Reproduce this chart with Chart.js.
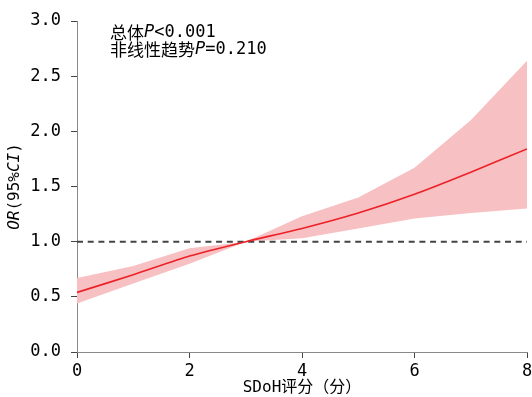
<!DOCTYPE html>
<html>
<head>
<meta charset="utf-8">
<script src="https://cdn.jsdelivr.net/npm/chart.js@4"></script>
<style>
  html, body { margin: 0; padding: 0; background: #fff; }
  #wrap { width: 532px; height: 397px; }
</style>
</head>
<body>
<div id="wrap"><canvas id="myChart"></canvas></div>
<script>
// SDoH score vs OR with 95% CI
const scores = [0, 1, 2, 3, 4, 5, 6, 7, 8];
const orValues = [0.54, 0.70, 0.87, 1.00, 1.12, 1.26, 1.43, 1.63, 1.84];
const ciLower = [0.44, 0.62, 0.80, 1.00, 1.03, 1.12, 1.21, 1.26, 1.30];
const ciUpper = [0.67, 0.78, 0.94, 1.00, 1.23, 1.40, 1.67, 2.10, 2.64];
const refValue = 1.0;
const xTicks = [0, 2, 4, 6, 8];
const yTicks = [0, 0.5, 1.0, 1.5, 2.0, 2.5, 3.0];

const monoFont = "'DejaVu Sans Mono', 'Noto Sans CJK SC', monospace";
const cjkFont = "'Noto Sans CJK SC', sans-serif";

const toPts = (ys) => scores.map((x, i) => ({ x: x, y: ys[i] }));

// draws a row of text pieces with different fonts
function drawPieces(ctx, pieces, x, y) {
    let cx = x;
    pieces.forEach(p => {
        ctx.font = p.font;
        ctx.fillText(p.text, cx, y);
        cx += ctx.measureText(p.text).width;
    });
    return cx - x;
}

const textPlugin = {
    id: 'extraText',
    afterDraw(chart) {
        const ctx = chart.ctx;
        const area = chart.chartArea;
        ctx.save();
        ctx.fillStyle = '#000';
        ctx.textBaseline = 'middle';
        ctx.textAlign = 'left';
        drawPieces(ctx, [
            { text: '总体', font: '17px ' + cjkFont },
            { text: 'P', font: 'italic 17px ' + monoFont },
            { text: '<0.001', font: '17px ' + monoFont }
        ], area.left + 33, area.top + 12);
        drawPieces(ctx, [
            { text: '非线性趋势', font: '17px ' + cjkFont },
            { text: 'P', font: 'italic 17px ' + monoFont },
            { text: '=0.210', font: '17px ' + monoFont }
        ], area.left + 33, area.top + 29);

        // y axis title, rotated
        const yPieces = [
            { text: 'OR', font: 'italic 16px ' + monoFont },
            { text: '(95%', font: '16px ' + monoFont },
            { text: 'CI', font: 'italic 16px ' + monoFont },
            { text: ')', font: '16px ' + monoFont }
        ];
        let total = 0;
        yPieces.forEach(p => { ctx.font = p.font; total += ctx.measureText(p.text).width; });
        ctx.translate(15, (area.top + area.bottom) / 2);
        ctx.rotate(-Math.PI / 2);
        drawPieces(ctx, yPieces, -total / 2, 0);
        ctx.restore();
    }
};

const ctx = document.getElementById('myChart').getContext('2d');
const myChart = new Chart(ctx, {
    type: 'line',
    data: {
        datasets: [
            {
                label: 'upper',
                data: toPts(ciUpper),
                borderWidth: 0,
                pointRadius: 0,
                backgroundColor: '#f7c0c2',
                fill: '+1',
                order: 3
            },
            {
                label: 'lower',
                data: toPts(ciLower),
                borderWidth: 0,
                pointRadius: 0,
                fill: false,
                order: 3
            },
            {
                label: 'OR',
                data: toPts(orValues),
                borderColor: '#ec2127',
                borderWidth: 1.6,
                pointRadius: 0,
                tension: 0.2,
                fill: false,
                order: 0
            },
            {
                label: 'ref',
                data: [{ x: scores[0], y: refValue }, { x: scores[scores.length - 1], y: refValue }],
                borderColor: '#444',
                borderWidth: 2,
                borderDash: [6, 4.7],
                pointRadius: 0,
                fill: false,
                order: 1
            }
        ]
    },
    options: {
        responsive: true,
        maintainAspectRatio: false,
        animation: false,
        events: [],
        layout: { padding: { top: 21, right: 0, left: 0, bottom: 0 } },
        plugins: {
            legend: { display: false },
            tooltip: { enabled: false }
        },
        scales: {
            x: {
                type: 'linear',
                min: 0,
                max: 8,
                afterFit: (s) => { s.height = 45; s.paddingRight = 5; s.paddingLeft = 0; },
                afterBuildTicks: (s) => { s.ticks = xTicks.map(v => ({ value: v })); },
                grid: { drawOnChartArea: false, drawTicks: true, tickLength: 6, color: '#444' },
                border: { display: true, color: '#888', width: 1 },
                ticks: {
                    color: '#000',
                    padding: 3,
                    maxRotation: 0,
                    font: { family: monoFont, size: 17 }
                },
                title: {
                    display: true,
                    text: 'SDoH评分（分）',
                    color: '#000',
                    padding: { top: -4, bottom: 0 },
                    font: { family: monoFont, size: 16 }
                }
            },
            y: {
                min: 0,
                max: 3,
                afterFit: (s) => { s.width = 77; s.paddingTop = 0; s.paddingBottom = 0; },
                afterBuildTicks: (s) => { s.ticks = yTicks.map(v => ({ value: v })); },
                grid: { drawOnChartArea: false, drawTicks: true, tickLength: 6, color: '#444' },
                border: { display: true, color: '#888', width: 1 },
                ticks: {
                    color: '#000',
                    padding: 10,
                    font: { family: monoFont, size: 17 },
                    callback: (v) => Number(v).toFixed(1)
                }
            }
        }
    },
    plugins: [textPlugin]
});
</script>
</body>
</html>
